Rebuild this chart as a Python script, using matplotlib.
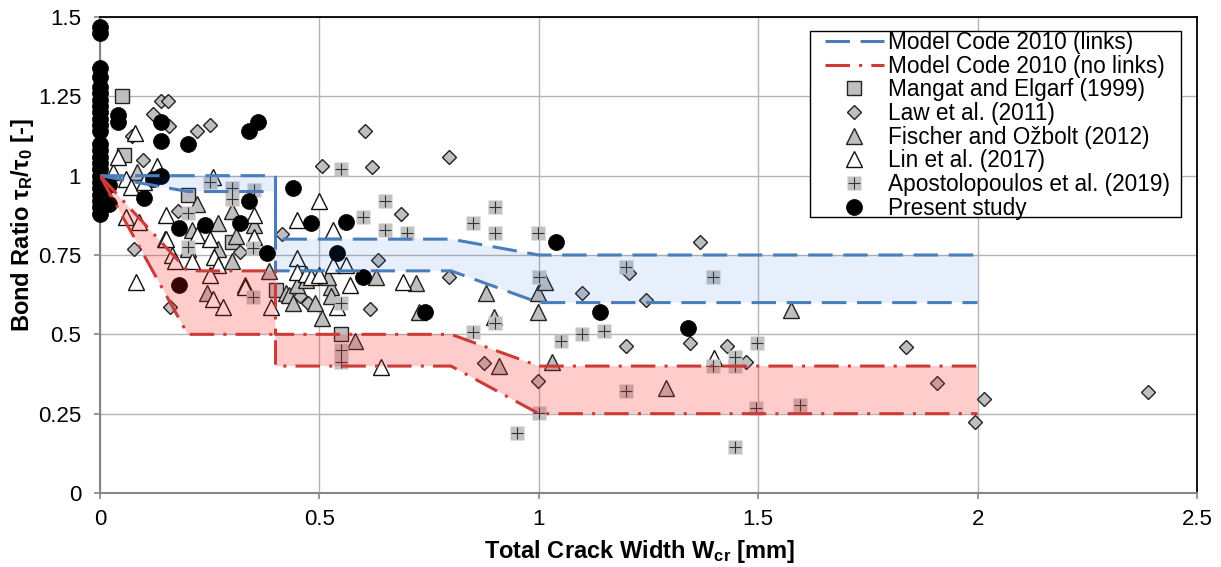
import matplotlib
matplotlib.use('Agg')
import matplotlib.pyplot as plt
from matplotlib.patches import Rectangle
from matplotlib.legend_handler import HandlerTuple

plt.rcParams['font.family'] = ['Liberation Sans', 'DejaVu Sans']
plt.rcParams['mathtext.fontset'] = 'custom'
plt.rcParams['mathtext.rm'] = 'Liberation Sans'
plt.rcParams['mathtext.it'] = 'Liberation Sans:italic'
plt.rcParams['mathtext.bf'] = 'Liberation Sans:bold'

# ---------------- data ----------------
x_ticks = [0, 0.5, 1, 1.5, 2, 2.5]
x_tick_labels = ['0', '0.5', '1', '1.5', '2', '2.5']
y_ticks = [0, 0.25, 0.5, 0.75, 1, 1.25, 1.5]
y_tick_labels = ['0', '0.25', '0.5', '0.75', '1', '1.25', '1.5']

# Model Code 2010 (links) band
mc_links_up_x = [0, 0.4, 0.4, 0.8, 1.0, 2.0]
mc_links_up_y = [1.0, 1.0, 0.8, 0.8, 0.75, 0.75]
mc_links_lo_x = [0, 0.2, 0.4, 0.4, 0.8, 1.0, 2.0]
mc_links_lo_y = [1.0, 0.95, 0.95, 0.7, 0.7, 0.6, 0.6]
# Model Code 2010 (no links) band
mc_nolinks_up_x = [0, 0.2, 0.4, 0.4, 0.8, 1.0, 2.0]
mc_nolinks_up_y = [1.0, 0.7, 0.7, 0.5, 0.5, 0.4, 0.4]
mc_nolinks_lo_x = [0, 0.2, 0.4, 0.4, 0.8, 1.0, 2.0]
mc_nolinks_lo_y = [1.0, 0.5, 0.5, 0.4, 0.4, 0.25, 0.25]

mangat_x = [0.05, 0.055, 0.2, 0.3, 0.4, 0.55]
mangat_y = [1.25, 1.066, 0.94, 0.79, 0.64, 0.50]

law_x = [0.14, 0.155, 0.12, 0.157, 0.22, 0.25, 0.073, 0.098, 0.177, 0.077, 0.16,
         0.32, 0.415, 0.507, 0.62, 0.795, 0.605, 0.686, 0.634, 0.795, 0.473, 0.455,
         0.616, 1.098, 1.205, 1.245, 1.368, 0.875, 0.998, 1.198, 1.345, 1.43, 1.473,
         1.836, 1.907, 2.014, 1.993, 2.389]
law_y = [1.235, 1.235, 1.195, 1.155, 1.14, 1.16, 1.125, 1.05, 0.89, 0.77, 0.587,
         0.76, 0.817, 1.03, 1.028, 1.06, 1.14, 0.88, 0.735, 0.68, 0.60, 0.62,
         0.58, 0.63, 0.694, 0.609, 0.79, 0.41, 0.353, 0.464, 0.473, 0.464, 0.413,
         0.46, 0.347, 0.297, 0.224, 0.319]

fischer_x = [0.085, 0.21, 0.22, 0.27, 0.27, 0.30, 0.31, 0.35, 0.30, 0.386, 0.243,
             0.33, 0.148, 0.425, 0.43, 0.44, 0.45, 0.49, 0.505, 0.527, 0.527, 0.52,
             0.63, 0.72, 0.727, 0.58, 0.47, 0.88, 0.998, 1.015, 0.998, 0.91, 1.03,
             0.898, 1.29, 1.575, 0.2]
fischer_y = [1.01, 0.83, 0.91, 0.85, 0.77, 0.73, 0.81, 0.845, 0.89, 0.70, 0.63,
             0.655, 0.80, 0.63, 0.625, 0.60, 0.656, 0.60, 0.553, 0.65, 0.62, 0.68,
             0.68, 0.662, 0.57, 0.48, 0.672, 0.63, 0.63, 0.666, 0.571, 0.40, 0.413,
             0.555, 0.33, 0.577, 0.77]

lin_x = [0.03, 0.06, 0.07, 0.10, 0.13, 0.04, 0.08, 0.06, 0.09, 0.15, 0.15, 0.163,
         0.17, 0.21, 0.22, 0.25, 0.26, 0.27, 0.25, 0.257, 0.28, 0.35, 0.35, 0.39,
         0.33, 0.082, 0.257, 0.5, 0.45, 0.53, 0.45, 0.45, 0.47, 0.48, 0.50, 0.53,
         0.56, 0.57, 0.69, 0.54, 0.64, 1.4]
lin_y = [1.01, 0.99, 0.965, 0.98, 1.03, 1.06, 1.135, 0.87, 0.855, 0.877, 0.80, 0.75,
         0.73, 0.73, 0.814, 0.80, 0.745, 0.72, 0.688, 0.61, 0.587, 0.877, 0.808, 0.587,
         0.65, 0.666, 0.997, 0.92, 0.86, 0.83, 0.74, 0.697, 0.69, 0.68, 0.687, 0.72,
         0.72, 0.656, 0.666, 0.587, 0.397, 0.425]

apos_x = [0.25, 0.30, 0.30, 0.352, 0.2, 0.2, 0.348, 0.348, 0.55, 0.65, 0.6, 0.65,
          0.70, 0.55, 0.55, 0.55, 0.85, 0.9, 0.9, 0.998, 1.0, 0.85, 0.9, 1.05, 1.098,
          1.148, 1.198, 1.198, 1.0, 0.95, 1.448, 1.448, 1.498, 1.495, 1.398, 1.398,
          1.448, 1.595]
apos_y = [0.98, 0.96, 0.925, 0.956, 0.883, 0.776, 0.773, 0.618, 1.02, 0.92, 0.87, 0.83,
          0.82, 0.60, 0.45, 0.413, 0.85, 0.9, 0.82, 0.82, 0.68, 0.508, 0.535, 0.48, 0.50,
          0.51, 0.713, 0.322, 0.252, 0.19, 0.43, 0.40, 0.473, 0.268, 0.68, 0.40,
          0.145, 0.278]

present_x = [0.0] * 24 + [0.02, 0.02, 0.04, 0.04, 0.14, 0.14, 0.2, 0.34, 0.36, 0.12,
                          0.14, 0.10, 0.34, 0.18, 0.24, 0.32, 0.38, 0.18, 0.44, 0.48,
                          0.56, 0.54, 0.60, 0.74, 1.04, 1.14, 1.34]
present_y = [1.47, 1.45, 1.34, 1.31, 1.28, 1.26, 1.24, 1.22, 1.20, 1.18, 1.16, 1.14,
             1.10, 1.08, 1.06, 1.04, 1.02, 1.00, 0.98, 0.96, 0.94, 0.92, 0.90, 0.88,
             0.97, 0.91, 1.19, 1.17, 1.17, 1.11, 1.10, 1.14, 1.17, 0.99,
             1.00, 0.93, 0.92, 0.835, 0.845, 0.85, 0.757, 0.655, 0.96, 0.85,
             0.855, 0.757, 0.68, 0.57, 0.79, 0.57, 0.52]

labels = ['Model Code 2010 (links)', 'Model Code 2010 (no links)',
          'Mangat and Elgarf (1999)', 'Law et al. (2011)',
          'Fischer and Ožbolt (2012)', 'Lin et al. (2017)',
          'Apostolopoulos et al. (2019)', 'Present study']

# ---------------- figure ----------------
W, H = 1221, 567
fig = plt.figure(figsize=(W / 100, H / 100), dpi=100)
ax = fig.add_axes([100 / W, 1 - 493 / H, 1097 / W, 476 / H])

ax.set_xlim(0, 2.5)
ax.set_ylim(0, 1.5)

grey = '#bfbfbf'
mk = dict(ls='none', zorder=3)
h_mangat, = ax.plot(mangat_x, mangat_y, marker='s', ms=10.5, mfc=grey, mec='#222222', mew=1.0, **mk)
h_law, = ax.plot(law_x, law_y, marker='D', ms=7.6, mfc=grey, mec='#222222', mew=1.0, **mk)
h_fis, = ax.plot(fischer_x, fischer_y, marker='^', ms=11.5, mfc=grey, mec='#222222', mew=1.0, **mk)
h_lin, = ax.plot(lin_x, lin_y, marker='^', ms=11.5, mfc='white', mec='#111111', mew=1.0, **mk)
h_apos_s, = ax.plot(apos_x, apos_y, marker='s', ms=10.5, mfc='#c2c2c2', mec='none', **mk)
h_apos_p, = ax.plot(apos_x, apos_y, marker='+', ms=9, mec='#333333', mew=0.8, **mk)
h_pres, = ax.plot(present_x, present_y, marker='o', ms=11.5, mfc='black', mec='black',
                  mew=0.5, clip_on=False, **mk)

# bands (drawn over the markers, semi-transparent)
blue_poly_x = mc_links_up_x + mc_links_lo_x[::-1]
blue_poly_y = mc_links_up_y + mc_links_lo_y[::-1]
red_poly_x = mc_nolinks_up_x + mc_nolinks_lo_x[::-1]
red_poly_y = mc_nolinks_up_y + mc_nolinks_lo_y[::-1]
ax.fill(blue_poly_x, blue_poly_y, color='#1a66e6', alpha=0.10, lw=0, zorder=4)
ax.fill(red_poly_x, red_poly_y, color='#ff1a1a', alpha=0.22, lw=0, zorder=4)

blue = '#4a7ebb'
red = '#cc3b37'
h_links, = ax.plot(mc_links_up_x, mc_links_up_y, color=blue, lw=2.2, dashes=(8, 3.5), zorder=5)
ax.plot(mc_links_lo_x, mc_links_lo_y, color=blue, lw=2.2, dashes=(8, 3.5), zorder=5)
h_nolinks, = ax.plot(mc_nolinks_up_x, mc_nolinks_up_y, color=red, lw=2.2, dashes=(8, 3, 1, 3), zorder=5)
ax.plot(mc_nolinks_lo_x, mc_nolinks_lo_y, color=red, lw=2.2, dashes=(8, 3, 1, 3), zorder=5)

# axes styling
ax.set_xticks(x_ticks)
ax.set_xticklabels(x_tick_labels)
ax.set_yticks(y_ticks)
ax.set_yticklabels(y_tick_labels)
ax.grid(True, color='#b4b4b4', lw=1.0)
ax.set_axisbelow(True)
for s in ['left', 'bottom']:
    ax.spines[s].set_color('#868686')
    ax.spines[s].set_linewidth(1.5)
for s in ['top', 'right']:
    ax.spines[s].set_color('black')
    ax.spines[s].set_linewidth(1.3)
ax.tick_params(axis='both', direction='out', length=4.5, width=1.2, color='#868686',
               labelsize=16, labelcolor='black')
ax.tick_params(axis='y', pad=9)
ax.tick_params(axis='x', pad=7)

ax.set_xlabel(r'Total Crack Width $\mathbf{W_{cr}}$ [mm]', fontsize=17, fontweight='bold')
ax.set_ylabel(r'Bond Ratio $\mathbf{\tau_R/\tau_0}$ [-]', fontsize=17, fontweight='bold')
ax.xaxis.set_label_coords(0.492, -0.095)
ax.yaxis.set_label_coords(-0.058, 0.563)

# legend box
box = Rectangle(((810 - 100) / 1097, (493 - 217) / 476), (1181 - 810) / 1097, (217 - 31) / 476,
                transform=ax.transAxes, facecolor='white', edgecolor='black', lw=1.0, zorder=8)
ax.add_patch(box)
leg = ax.legend([h_links, h_nolinks, h_mangat, h_law, h_fis, h_lin, (h_apos_s, h_apos_p), h_pres],
                labels, handler_map={tuple: HandlerTuple(ndivide=1, pad=0)},
                loc='upper left', bbox_to_anchor=((825 - 100) / 1097, (493 - 31) / 476),
                frameon=False, borderpad=0, borderaxespad=0, fontsize=16.3,
                labelspacing=0.03, handlelength=2.6, handletextpad=0.2, numpoints=1)
leg.set_zorder(9)

fig.savefig('out.png', dpi=100)
